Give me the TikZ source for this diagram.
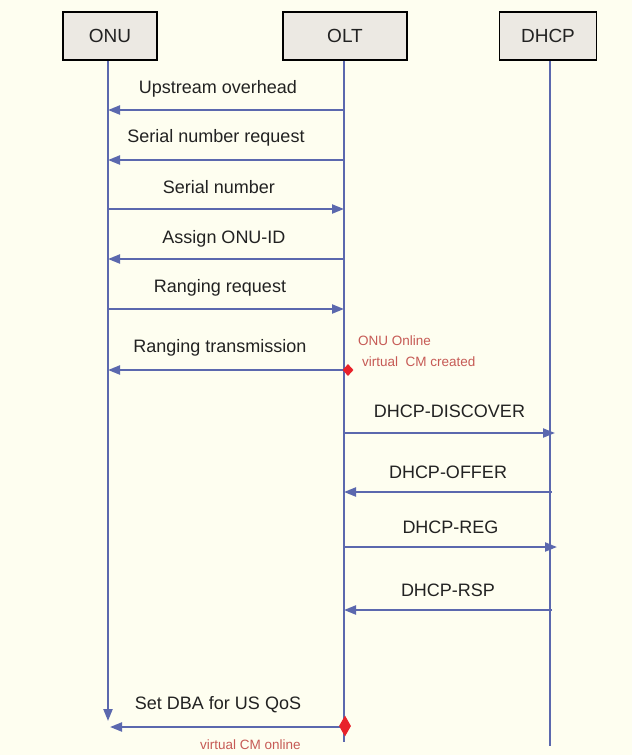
\documentclass[tikz,border=0pt]{standalone}
\usepackage{fontspec}
\setmainfont{Liberation Sans}
\usetikzlibrary{arrows.meta,shapes.geometric}
\definecolor{paper}{HTML}{FEFEF0}
\definecolor{lifeblue}{HTML}{5B68AE}
\definecolor{boxgray}{HTML}{ECE9E3}
\definecolor{notered}{HTML}{C65A55}
\definecolor{markred}{HTML}{E8222A}
\definecolor{ink}{HTML}{222222}

\tikzset{
  entity/.style={draw=black, line width=1.8pt, fill=boxgray, minimum height=48pt,
    inner sep=0pt, font=\fontsize{19}{21}\selectfont, text=ink},
  lifeline/.style={draw=lifeblue, line width=2.2pt},
  msg/.style={draw=lifeblue, line width=2.2pt, -{Triangle[length=12pt,width=9pt]}},
  lbl/.style={font=\fontsize{18}{20}\selectfont, text=ink, inner sep=0pt},
  note/.style={font=\fontsize{13.5}{15}\selectfont, text=notered, inner sep=0pt, anchor=west},
  redmark/.style={diamond, fill=markred, inner sep=0pt},
}

\begin{document}
\begin{tikzpicture}[x=1pt,y=-1pt]
  % page and background
  \fill[paper] (0,0) rectangle (632,755);
  \useasboundingbox (0,0) rectangle (632,755);

  % entities
  \node[entity, minimum width=94pt]  (onu)  at (110,36) {ONU};
  \node[entity, minimum width=124pt] (olt)  at (345,36) {OLT};
  \node[entity, minimum width=97pt]  (dhcp) at (548,36) {DHCP};

  % lifeline ends
  \coordinate (onuEnd)  at (108,721);
  \coordinate (oltEnd)  at (344,742);
  \coordinate (dhcpEnd) at (550,746);

  \draw[msg]      (onu.south -| onuEnd) -- (onuEnd);
  \draw[lifeline] (olt.south -| oltEnd) -- (oltEnd);
  \draw[lifeline] (dhcp.south -| dhcpEnd) -- (dhcpEnd);

  % ONU <-> OLT messages
  \coordinate (u1) at (108,110); \coordinate (o1) at (344,110);
  \coordinate (u2) at (108,160); \coordinate (o2) at (344,160);
  \coordinate (u3) at (108,209); \coordinate (o3) at (344,209);
  \coordinate (u4) at (108,259); \coordinate (o4) at (344,259);
  \coordinate (u5) at (108,309); \coordinate (o5) at (344,309);
  \coordinate (u6) at (108,370); \coordinate (o6) at (344,370);

  \draw[msg] (o1) -- (u1) node[lbl, midway, yshift=21pt, xshift=-8pt] {Upstream overhead};
  \draw[msg] (o2) -- (u2) node[lbl, midway, yshift=22pt, xshift=-10pt] {Serial number request};
  \draw[msg] (u3) -- (o3) node[lbl, midway, yshift=22pt, xshift=-7pt] {Serial number};
  \draw[msg] (o4) -- (u4) node[lbl, midway, yshift=20pt, xshift=-2pt] {Assign ONU-ID};
  \draw[msg] (u5) -- (o5) node[lbl, midway, yshift=21pt, xshift=-6pt] {Ranging request};
  \draw[msg] (o6) -- (u6) node[lbl, midway, yshift=22pt, xshift=-6pt] {Ranging transmission};

  \node[redmark, minimum width=11pt, minimum height=12pt] (m1) at (348,370) {};
  \node[note] (n1) at (358,341) {ONU Online};
  \node[note] (n2) at (362,362) {virtual\ \ CM created};

  % OLT <-> DHCP messages
  \coordinate (l1) at (344,433); \coordinate (d1) at (555,433);
  \coordinate (l2) at (344,492); \coordinate (d2) at (552,492);
  \coordinate (l3) at (344,547); \coordinate (d3) at (557,547);
  \coordinate (l4) at (344,610); \coordinate (d4) at (552,610);

  \draw[msg] (l1) -- (d1) node[lbl, midway, yshift=22pt] {DHCP-DISCOVER};
  \draw[msg] (d2) -- (l2) node[lbl, midway, yshift=20pt] {DHCP-OFFER};
  \draw[msg] (l3) -- (d3) node[lbl, midway, yshift=20pt] {DHCP-REG};
  \draw[msg] (d4) -- (l4) node[lbl, midway, yshift=20pt] {DHCP-RSP};

  % final message
  \coordinate (u7) at (110,727); \coordinate (o7) at (344,727);
  \draw[msg] (o7) -- (u7) node[lbl, midway, yshift=22pt, xshift=-9pt] {Set DBA for US QoS};
  \node[redmark, minimum width=12pt, minimum height=21pt] (m2) at (345,726) {};
  \node[note] (n3) at (200,745) {virtual CM online};
\end{tikzpicture}
\end{document}
